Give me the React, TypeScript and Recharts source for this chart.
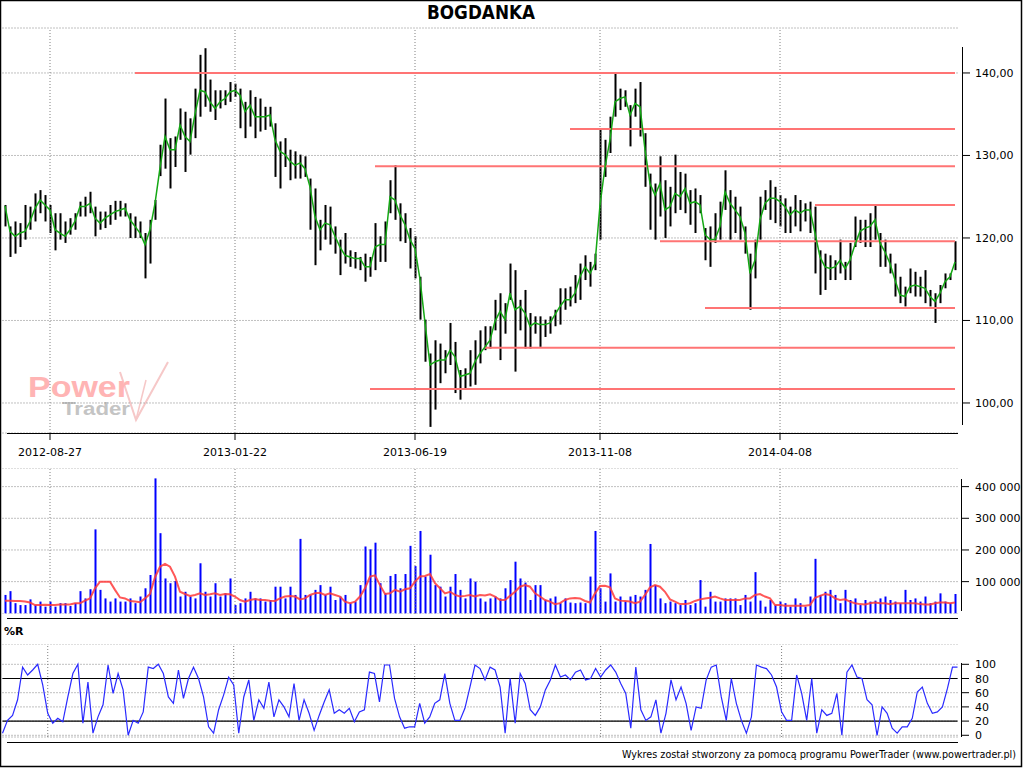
import { ComposedChart, Bar, Line, XAxis, YAxis, CartesianGrid, ReferenceLine } from 'recharts'

// BOGDANKA – daily bars resampled (~2.7 sessions per bar)
const dateTicks = [9, 46, 82, 119, 155]
const dateLabels = ['2012-08-27', '2013-01-22', '2013-06-19', '2013-11-08', '2014-04-08']

const priceTicks = [100, 110, 120, 130, 140]
const volumeTicks = [100, 200, 300, 400] // thousands
const wrTicks = [0, 20, 40, 60, 80, 100]

const high = [
  124.0, 121.4, 122.0, 121.8, 124.0, 123.8, 125.4, 125.8, 125.2, 124.0,
  123.0, 123.0, 122.0, 122.4, 123.0, 124.4, 125.0, 125.6, 123.8, 123.2,
  123.2, 124.0, 124.5, 124.5, 124.2, 123.0, 122.6, 122.0, 120.6, 122.2,
  124.6, 131.3, 136.9, 132.1, 132.3, 135.7, 135.3, 134.5, 138.1, 142.2,
  143.0, 139.2, 137.9, 137.9, 137.9, 138.9, 138.7, 138.1, 136.5, 137.9,
  137.1, 136.9, 135.9, 135.9, 133.9, 131.7, 132.1, 130.7, 130.5, 130.1,
  129.9, 127.2, 126.0, 122.2, 124.0, 123.8, 121.4, 119.8, 120.6, 118.5,
  118.3, 117.7, 118.1, 117.7, 121.8, 120.2, 122.0, 127.0, 128.8, 124.2,
  123.0, 121.2, 120.2, 115.3, 110.1, 106.0, 107.6, 107.2, 106.4, 109.7,
  107.4, 104.0, 104.2, 106.4, 107.6, 108.8, 109.3, 109.3, 112.5, 113.3,
  112.1, 116.9, 116.1, 112.5, 113.7, 110.9, 110.5, 110.5, 110.1, 110.5,
  111.3, 113.9, 113.9, 114.1, 115.5, 116.9, 117.9, 117.1, 118.1, 133.1,
  131.9, 134.7, 140.0, 138.1, 137.9, 136.1, 138.1, 138.9, 132.7, 127.8,
  126.6, 129.9, 127.0, 126.2, 130.1, 128.0, 127.8, 125.8, 126.0, 125.2,
  121.2, 121.4, 123.0, 124.4, 128.2, 125.8, 125.0, 123.8, 121.4, 118.1,
  119.8, 125.0, 125.8, 127.0, 126.2, 125.2, 124.8, 123.8, 125.2, 124.6,
  124.2, 124.4, 123.8, 118.5, 118.1, 117.9, 117.3, 119.8, 117.1, 119.4,
  122.6, 122.2, 122.2, 123.0, 124.0, 120.6, 119.8, 118.1, 116.9, 115.3,
  114.1, 116.3, 115.9, 115.3, 116.1, 113.7, 113.3, 114.3, 115.7, 115.7, 119.6,
]

const low = [
  121.4, 117.7, 118.1, 118.9, 119.8, 121.0, 122.0, 123.0, 122.0, 120.6,
  118.5, 119.8, 119.4, 120.4, 121.0, 122.6, 122.6, 123.0, 120.2, 121.0,
  121.2, 121.6, 122.2, 122.6, 122.6, 120.0, 120.0, 120.0, 115.1, 116.9,
  122.2, 127.5, 128.4, 126.0, 128.6, 131.9, 128.0, 130.1, 132.1, 134.7,
  135.9, 135.3, 134.3, 135.7, 136.1, 136.5, 137.1, 133.3, 132.1, 133.5,
  132.1, 132.9, 133.1, 133.5, 127.4, 126.0, 128.6, 127.0, 127.2, 127.2,
  127.4, 121.0, 116.7, 118.5, 119.8, 119.2, 118.1, 115.5, 116.9, 116.5,
  116.3, 116.1, 114.7, 115.3, 116.1, 117.1, 117.1, 123.0, 122.2, 119.6,
  119.4, 116.3, 115.1, 110.1, 105.0, 97.1, 99.2, 102.4, 103.6, 104.6,
  101.2, 100.4, 101.8, 102.0, 102.2, 104.8, 106.4, 106.6, 108.8, 105.2,
  108.4, 112.5, 103.8, 108.8, 106.6, 106.6, 108.4, 106.8, 108.0, 108.4,
  109.3, 109.5, 111.3, 111.7, 112.1, 112.5, 114.9, 114.1, 116.1, 119.8,
  127.4, 130.3, 134.7, 135.5, 135.9, 131.1, 134.7, 132.3, 126.2, 121.0,
  119.8, 122.6, 120.0, 121.4, 123.0, 123.4, 123.0, 121.6, 120.6, 123.0,
  117.3, 116.5, 119.4, 119.8, 123.4, 119.8, 120.6, 119.8, 118.1, 111.3,
  115.1, 119.8, 123.4, 122.2, 121.8, 121.4, 120.6, 120.6, 121.4, 120.8,
  122.0, 120.6, 115.7, 113.1, 113.7, 114.9, 114.9, 115.7, 114.9, 114.9,
  118.9, 119.4, 118.9, 118.9, 119.8, 116.5, 116.5, 115.7, 112.9, 112.1,
  111.7, 113.3, 112.9, 112.9, 112.1, 111.7, 109.7, 112.1, 113.9, 114.9, 116.1,
]

// green moving average
const ma = [
  123.9, 120.8, 120.2, 120.6, 120.8, 122.0, 123.6, 124.6, 124.0, 123.4,
  121.0, 120.6, 120.2, 121.0, 122.0, 123.8, 123.8, 124.2, 122.4, 121.8,
  122.4, 122.8, 123.2, 123.4, 123.6, 122.2, 121.4, 120.6, 119.2, 121.0,
  124.2, 128.5, 132.3, 130.7, 130.7, 133.7, 132.3, 131.7, 135.0, 137.9,
  137.7, 136.5, 135.7, 136.5, 136.9, 137.7, 137.9, 137.3, 135.3, 136.1,
  134.7, 134.7, 134.7, 134.9, 131.9, 130.5, 130.1, 129.3, 128.8, 129.1,
  128.4, 126.2, 122.6, 121.0, 121.8, 121.6, 120.2, 118.9, 117.9, 117.7,
  117.5, 117.5, 116.5, 116.5, 118.9, 119.2, 119.2, 125.0, 124.6, 122.8,
  121.6, 119.8, 118.7, 115.0, 109.7, 104.6, 105.0, 105.2, 105.2, 106.4,
  105.6, 103.2, 103.4, 103.6, 105.0, 106.0, 106.8, 107.6, 109.9, 111.1,
  110.1, 113.3, 111.3, 111.7, 110.9, 109.3, 109.7, 109.5, 109.5, 109.7,
  110.7, 111.7, 112.5, 112.5, 113.3, 115.3, 116.5, 115.7, 116.9, 124.0,
  128.6, 131.9, 136.5, 136.9, 137.1, 134.9, 136.3, 135.9, 130.7, 126.6,
  125.2, 126.6, 123.4, 123.8, 125.4, 125.0, 126.0, 124.2, 124.4, 124.0,
  120.4, 119.8, 119.8, 121.4, 125.6, 124.2, 123.4, 122.6, 120.6, 115.7,
  117.3, 122.2, 124.2, 124.8, 124.8, 124.4, 123.8, 122.8, 123.4, 123.0,
  123.4, 123.4, 120.6, 117.7, 116.5, 116.3, 116.5, 117.3, 116.3, 117.3,
  119.2, 120.8, 121.2, 121.4, 122.2, 119.4, 118.3, 116.9, 114.9, 113.1,
  112.9, 114.1, 114.3, 114.1, 113.9, 112.9, 112.3, 113.3, 114.7, 115.3, 117.1,
]

// volume in thousands of shares
const volume = [
  58, 70, 32, 26, 26, 44, 26, 37, 21, 37,
  21, 32, 32, 23, 32, 70, 47, 76, 265, 74,
  47, 37, 47, 37, 37, 47, 32, 53, 79, 121,
  426, 253, 110, 95, 102, 53, 68, 53, 47, 158,
  68, 53, 95, 53, 63, 110, 26, 32, 47, 68,
  47, 47, 37, 42, 84, 84, 47, 84, 58, 235,
  58, 58, 74, 89, 58, 84, 42, 53, 58, 32,
  37, 89, 211, 202, 223, 95, 63, 118, 124, 79,
  124, 213, 149, 260, 116, 185, 89, 84, 53, 84,
  124, 74, 47, 110, 100, 47, 37, 47, 53, 47,
  79, 105, 163, 110, 97, 42, 89, 89, 42, 47,
  53, 32, 47, 34, 32, 34, 32, 116, 260, 79,
  37, 126, 37, 53, 37, 53, 58, 53, 74, 219,
  89, 47, 32, 37, 32, 26, 42, 26, 32, 105,
  21, 68, 37, 37, 47, 47, 47, 26, 58, 37,
  130, 40, 21, 42, 26, 37, 32, 21, 47, 32,
  21, 53, 172, 58, 68, 74, 58, 32, 74, 42,
  47, 26, 42, 37, 40, 47, 53, 42, 37, 32,
  74, 42, 47, 37, 53, 32, 37, 63, 37, 32, 61,
]

const volumeMa = [
  40, 40, 39, 39, 37, 34, 26, 26, 27, 26,
  26, 28, 28, 28, 32, 32, 40, 47, 79, 100,
  100, 100, 74, 50, 47, 39, 37, 35, 47, 61,
  114, 147, 156, 147, 116, 68, 61, 55, 58, 63,
  58, 60, 63, 58, 61, 60, 53, 42, 37, 42,
  45, 42, 42, 40, 39, 47, 53, 55, 53, 44,
  47, 58, 63, 65, 58, 63, 58, 53, 37, 32,
  37, 53, 79, 116, 120, 89, 61, 63, 74, 68,
  76, 79, 100, 116, 118, 124, 95, 79, 63, 68,
  58, 53, 55, 58, 53, 58, 56, 60, 53, 42,
  42, 55, 68, 84, 89, 84, 63, 53, 42, 37,
  29, 32, 42, 47, 48, 47, 39, 34, 63, 86,
  87, 82, 47, 40, 39, 37, 32, 37, 58, 82,
  89, 84, 68, 44, 37, 29, 29, 32, 39, 44,
  47, 49, 53, 47, 42, 42, 42, 42, 47, 47,
  58, 61, 53, 47, 26, 26, 24, 24, 24, 24,
  24, 26, 49, 55, 61, 58, 47, 42, 44, 37,
  32, 29, 28, 32, 34, 32, 32, 29, 32, 32,
  32, 32, 32, 29, 28, 28, 32, 34, 34, 32, 34,
]

// Williams %R (0..100 scale as printed)
const williamsR = [
  3, 21, 28, 50, 96, 85, 92, 100, 71, 31,
  17, 24, 19, 54, 87, 100, 17, 75, 3, 26,
  43, 99, 59, 87, 64, 0, 21, 17, 33, 96,
  94, 100, 87, 54, 45, 92, 52, 80, 96, 80,
  54, 12, 3, 36, 57, 82, 71, 3, 54, 78,
  21, 50, 38, 75, 26, 50, 40, 26, 73, 21,
  50, 31, 7, 28, 47, 64, 31, 36, 31, 38,
  19, 33, 36, 89, 87, 47, 99, 99, 52, 26,
  10, 12, 12, 45, 17, 26, 45, 50, 87, 45,
  21, 21, 38, 68, 99, 94, 78, 96, 92, 68,
  3, 80, 17, 87, 73, 36, 28, 40, 64, 78,
  99, 82, 85, 78, 89, 92, 78, 80, 94, 82,
  92, 99, 89, 73, 59, 10, 96, 36, 21, 26,
  50, 3, 31, 78, 50, 68, 45, 7, 40, 38,
  78, 96, 99, 54, 21, 80, 45, 21, 3, 26,
  99, 96, 94, 85, 68, 33, 21, 21, 85, 59,
  21, 80, 3, 36, 28, 31, 59, 0, 89, 99,
  82, 80, 50, 43, 0, 40, 31, 10, 3, 12,
  12, 24, 61, 68, 45, 31, 33, 40, 66, 96, 96,
]

// support / resistance levels: price and the bar they start at
const levelPrices = [140.0, 133.2, 128.7, 124.0, 119.6, 111.5, 106.7, 101.7]
const levelStarts = [26, 113, 74, 162, 131, 140, 96, 73]

const rows = high.map((h, i) => ({
  i,
  hl: [low[i], h],
  ma: ma[i],
  vol: volume[i],
  volMa: volumeMa[i],
  wr: williamsR[i],
}))
const lastIdx = rows.length - 1

const FONT = 'DejaVu Sans, Verdana, sans-serif'
const GRID = '#808080'

const priceFmt = (v: number) => v.toFixed(2).replace('.', ',')
const volFmt = (v: number) => String(v * 1000).replace(/\B(?=(\d{3})+(?!\d))/g, ' ')
const plainFmt = (v: number) => String(v)

function RightTick({ y, payload, fmt, axisX }: any) {
  return (
    <g>
      <line x1={axisX} x2={axisX + 8} y1={y} y2={y} stroke="#000" />
      <text x={975} y={y + 4} fontSize={11} fontFamily={FONT} fill="#000">{fmt(payload.value)}</text>
    </g>
  )
}

const MARGIN = { top: 0, right: 0, left: 2.5, bottom: 0 }

export default function App() {
  const vLines = dateTicks.map(t => (
    <ReferenceLine key={'v' + t} x={t} stroke={GRID} strokeDasharray="1 2" />
  ))

  return (
    <div style={{ position: 'absolute', left: 0, top: 0, width: 1024, height: 768, background: '#fff', overflow: 'hidden' }}>
      {/* watermark */}
      <svg width={1024} height={768} style={{ position: 'absolute', left: 0, top: 0 }}>
        <path d="M120,372 L136,420 L168,362" fill="none" stroke="#f6c8c8" strokeWidth={2} />
        <path d="M136,420 L146,380" fill="none" stroke="#f6c8c8" strokeWidth={1.5} />
        <text x={28} y={397} fontSize={30} fontWeight="bold" fontFamily="Liberation Sans, Arial, sans-serif" fill="#ffb4b4" textLength={102} lengthAdjust="spacingAndGlyphs">Power</text>
        <text x={62} y={415} fontSize={18} fontWeight="bold" fontFamily="Liberation Sans, Arial, sans-serif" fill="#c4c4c4" textLength={68} lengthAdjust="spacingAndGlyphs">Trader</text>
      </svg>

      {/* price panel */}
      <div style={{ position: 'absolute', left: 0, top: 0 }}>
        <ComposedChart width={1024} height={468} data={rows} margin={{ ...MARGIN, top: 28 }}>
          <CartesianGrid vertical={false} stroke={GRID} strokeDasharray="1 2" />
          <XAxis dataKey="i" type="category" ticks={dateTicks} interval={0} height={35}
            axisLine={false} tickSize={7} tickMargin={8} tickLine={{ stroke: '#000' }}
            tickFormatter={(v: number) => dateLabels[dateTicks.indexOf(v)]}
            tick={{ fontSize: 11, fontFamily: FONT, fill: '#000' }} />
          <YAxis orientation="right" width={66.5} domain={[96.36, 145.45]} ticks={priceTicks} interval={0}
            axisLine={false} tickLine={false}
            tick={(p: any) => <RightTick {...p} fmt={priceFmt} axisX={962} />} />
          {vLines}
          {levelPrices.map((p, k) => (
            <ReferenceLine key={'l' + k} segment={[{ x: levelStarts[k], y: p }, { x: lastIdx, y: p }]}
              stroke="#ff7474" strokeWidth={2} />
          ))}
          <Bar dataKey="hl" fill="#000" barSize={2} isAnimationActive={false} />
          <Line dataKey="ma" stroke="#14a814" strokeWidth={1.5} dot={false} type="linear" isAnimationActive={false} />
        </ComposedChart>
      </div>

      {/* volume panel */}
      <div style={{ position: 'absolute', left: 0, top: 468 }}>
        <ComposedChart width={1024} height={146} data={rows} margin={MARGIN}>
          <CartesianGrid vertical={false} stroke={GRID} strokeDasharray="1 2" />
          <XAxis dataKey="i" type="category" hide />
          <YAxis orientation="right" width={66.5} domain={[-2.2, 458.8]} ticks={volumeTicks} interval={0}
            axisLine={false} tickLine={false}
            tick={(p: any) => <RightTick {...p} fmt={volFmt} axisX={961} />} />
          {vLines}
          <Bar dataKey="vol" fill="#0000ff" barSize={2} isAnimationActive={false} />
          <Line dataKey="volMa" stroke="#ff3a3a" strokeOpacity={0.85} strokeWidth={2} dot={false} type="linear" isAnimationActive={false} />
        </ComposedChart>
      </div>

      {/* %R panel */}
      <div style={{ position: 'absolute', left: 0, top: 644 }}>
        <ComposedChart width={1024} height={103} data={rows} margin={{ ...MARGIN, bottom: 10 }}>
          <CartesianGrid vertical={false} stroke={GRID} strokeDasharray="1 2" />
          <XAxis dataKey="i" type="category" hide />
          <YAxis orientation="right" width={66.5} domain={[-2.4, 128.6]} ticks={wrTicks} interval={0}
            axisLine={false} tickLine={false}
            tick={(p: any) => <RightTick {...p} fmt={plainFmt} axisX={961} />} />
          {vLines}
          <ReferenceLine y={80} stroke="#000" strokeWidth={1.2} />
          <ReferenceLine y={20} stroke="#000" strokeWidth={1.2} />
          <Line dataKey="wr" stroke="#2a2aff" strokeWidth={1.2} dot={false} type="linear" isAnimationActive={false} />
        </ComposedChart>
      </div>

      {/* frame, axes lines, captions */}
      <svg width={1024} height={768} style={{ position: 'absolute', left: 0, top: 0, pointerEvents: 'none' }}>
        <rect x={0.5} y={0.5} width={1021} height={766} fill="none" stroke="#000" strokeWidth={1.5} />
        <line x1={962.5} x2={962.5} y1={47} y2={425} stroke="#000" />
        <line x1={7} x2={958} y1={433.5} y2={433.5} stroke="#000" />
        <line x1={961.5} x2={961.5} y1={479} y2={611} stroke="#000" />
        <line x1={7} x2={958} y1={618.5} y2={618.5} stroke="#000" />
        <line x1={961.5} x2={961.5} y1={663} y2={737} stroke="#000" />
        <line x1={7} x2={958} y1={742.5} y2={742.5} stroke="#000" />
        <text x={427} y={19} fontSize={19} fontWeight="bold" fontFamily={FONT} textLength={108} lengthAdjust="spacingAndGlyphs">BOGDANKA</text>
        <text x={4} y={635} fontSize={11} fontWeight="bold" fontFamily={FONT}>%R</text>
        <text x={622} y={758} fontSize={10} fontFamily={FONT} textLength={394} lengthAdjust="spacingAndGlyphs">Wykres został stworzony za pomocą programu PowerTrader (www.powertrader.pl)</text>
      </svg>
    </div>
  )
}
